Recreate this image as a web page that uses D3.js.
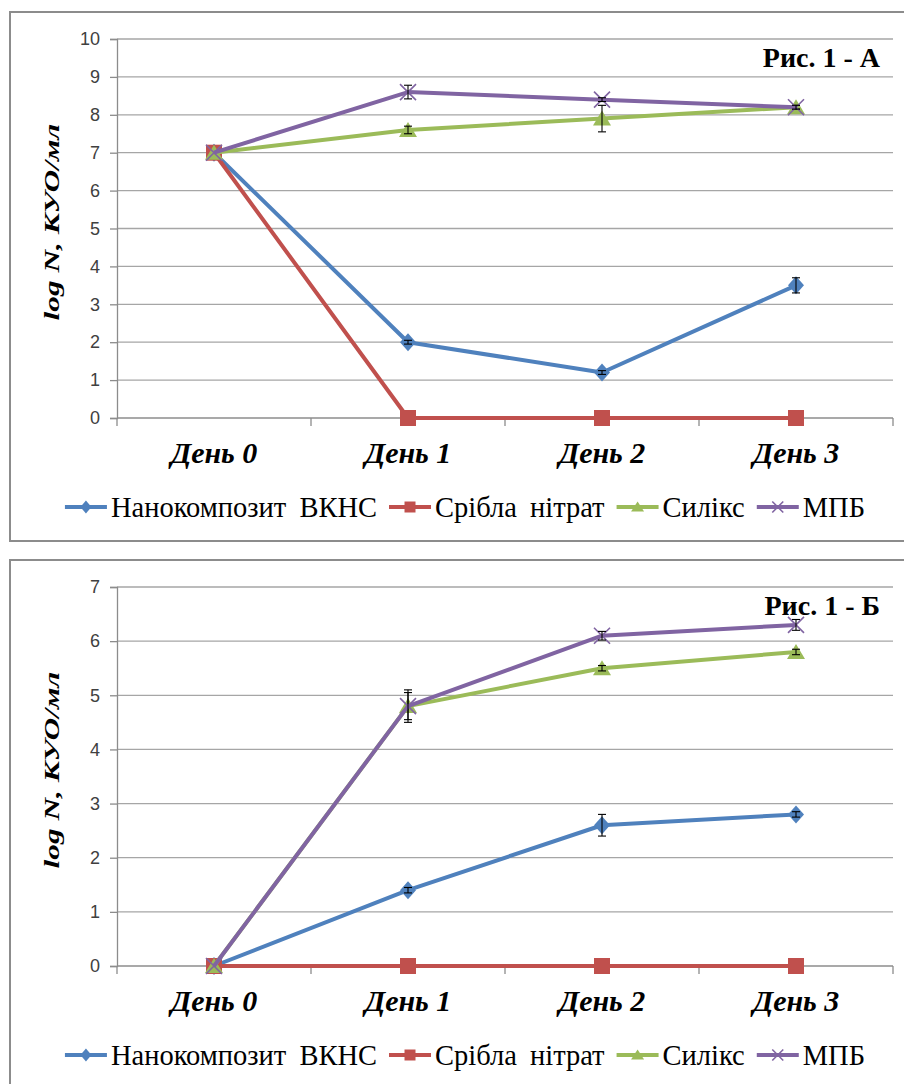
<!DOCTYPE html>
<html>
<head>
<meta charset="utf-8">
<script src="https://cdn.jsdelivr.net/npm/d3@7"></script>
<style>
  body { margin: 0; background: #fff; }
  svg { display: block; }
</style>
</head>
<body>
<div id="chart"></div>
<script>
// categories and series names
var days = ["День 0", "День 1", "День 2", "День 3"];
var seriesNames = ["Нанокомпозит ВКНС", "Срібла нітрат", "Силікс", "МПБ"];
var seriesColors = ["#4f81bd", "#c0504d", "#9bbb59", "#8064a2"];
var seriesMarkers = ["diamond", "square", "triangle", "cross"];

// Рис. 1 - А
var nanoA = [7, 2, 1.2, 3.5];
var silverA = [7, 0, 0, 0];
var silixA = [7, 7.6, 7.9, 8.2];
var mpbA = [7, 8.6, 8.4, 8.2];
var nanoErrA = [0, 0.05, 0.05, 0.2];
var silverErrA = [0, 0, 0, 0];
var silixErrA = [0, 0.1, 0.35, 0.05];
var mpbErrA = [0, 0.18, 0.05, 0.05];
var ticksA = [0, 1, 2, 3, 4, 5, 6, 7, 8, 9, 10];

// Рис. 1 - Б
var nanoB = [0, 1.4, 2.6, 2.8];
var silverB = [0, 0, 0, 0];
var silixB = [0, 4.8, 5.5, 5.8];
var mpbB = [0, 4.8, 6.1, 6.3];
var nanoErrB = [0, 0.05, 0.2, 0.05];
var silverErrB = [0, 0, 0, 0];
var silixErrB = [0, 0.25, 0.05, 0.05];
var mpbErrB = [0, 0.3, 0.08, 0.1];
var ticksB = [0, 1, 2, 3, 4, 5, 6, 7];

var W = 904, H = 1084;
var serif = "'Times New Roman', serif";
var sans = "'Liberation Sans', Arial, sans-serif";

var svg = d3.select('#chart').append('svg')
    .attr('width', W)
    .attr('height', H);

function markerPath(type, s) {
  var h = s / 2;
  if (type === 'diamond') return 'M0,' + (-h - 1) + 'L' + h + ',0L0,' + (h + 1) + 'L' + (-h) + ',0Z';
  if (type === 'square') return 'M' + (-h) + ',' + (-h) + 'H' + h + 'V' + h + 'H' + (-h) + 'Z';
  if (type === 'triangle') return 'M0,' + (-h) + 'L' + (h + 1) + ',' + (h - 1) + 'L' + (-h - 1) + ',' + (h - 1) + 'Z';
  return 'M' + (-h) + ',' + (-h) + 'L' + h + ',' + h + 'M' + (-h) + ',' + h + 'L' + h + ',' + (-h);
}

function drawMarker(g, type, color, size) {
  var p = g.append('path').attr('d', markerPath(type, size));
  if (type === 'cross') p.attr('fill', 'none').attr('stroke', color).attr('stroke-width', 1.6);
  else p.attr('fill', color);
}

function drawPanel(top, title, yMax, ticks, series, errors) {
  var g = svg.append('g').attr('transform', 'translate(0,' + top + ')');

  g.append('rect')
    .attr('x', 10).attr('y', 0)
    .attr('width', 910).attr('height', 529)
    .attr('fill', '#fff')
    .attr('stroke', '#8c8c8c')
    .attr('stroke-width', 2);

  var x = d3.scaleBand().domain(days).range([117, 893]);
  var y = d3.scaleLinear().domain([0, yMax]).range([406, 27]);
  var cx = function(d) { return x(d) + x.bandwidth() / 2; };

  // gridlines
  g.append('g').selectAll('line').data(ticks.slice(1)).enter().append('line')
    .attr('x1', 117).attr('x2', 893)
    .attr('y1', function(d) { return y(d); })
    .attr('y2', function(d) { return y(d); })
    .attr('stroke', '#a6a6a6').attr('stroke-width', 1.3);

  var yAxis = g.append('g').attr('transform', 'translate(117,0)')
    .call(d3.axisLeft(y).tickValues(ticks).tickSize(7).tickPadding(10).tickFormat(d3.format('d')));
  yAxis.select('.domain').attr('stroke', '#8c8c8c').attr('stroke-width', 1.3);
  yAxis.selectAll('.tick line').attr('stroke', '#8c8c8c').attr('stroke-width', 1.3);
  yAxis.selectAll('.tick text')
    .attr('font-family', sans).attr('font-size', 18).attr('fill', '#404040');

  // x axis
  var xAxis = g.append('g').attr('transform', 'translate(0,' + y(0) + ')');
  xAxis.append('line').attr('x1', 117).attr('x2', 893)
    .attr('stroke', '#8c8c8c').attr('stroke-width', 1.3);
  var bounds = days.map(function(d) { return x(d); }).concat([x.range()[1]]);
  xAxis.selectAll('.xt').data(bounds).enter().append('line')
    .attr('class', 'xt')
    .attr('x1', function(d) { return d; }).attr('x2', function(d) { return d; })
    .attr('y1', 0).attr('y2', 8)
    .attr('stroke', '#8c8c8c').attr('stroke-width', 1.3);
  xAxis.selectAll('text').data(days).enter().append('text')
    .attr('x', cx).attr('y', 45)
    .attr('text-anchor', 'middle')
    .attr('font-family', serif).attr('font-size', 30)
    .attr('font-weight', 'bold').attr('font-style', 'italic')
    .attr('fill', '#000')
    .text(function(d) { return d; });

  // y title, stretched along its length like the original
  var yt = g.append('text')
    .attr('text-anchor', 'middle')
    .attr('font-family', serif).attr('font-size', 22)
    .attr('font-weight', 'bold').attr('font-style', 'italic')
    .text('log N, КУО/мл');
  var k = 197 / yt.node().getComputedTextLength();
  yt.attr('transform', 'translate(59,210) rotate(-90) scale(' + k + ',1)');

  // panel title
  g.append('text')
    .attr('x', 880).attr('y', 55)
    .attr('text-anchor', 'end')
    .attr('font-family', serif).attr('font-size', 28)
    .attr('font-weight', 'bold')
    .text(title);

  var line = d3.line()
    .x(function(d, i) { return cx(days[i]); })
    .y(function(d) { return y(d); });

  series.forEach(function(vals, s) {
    var sg = g.append('g');
    sg.append('path').datum(vals)
      .attr('d', line)
      .attr('fill', 'none')
      .attr('stroke', seriesColors[s])
      .attr('stroke-width', 4)
      .attr('stroke-linejoin', 'round');
    vals.forEach(function(v, i) {
      var mg = sg.append('g').attr('transform', 'translate(' + cx(days[i]) + ',' + y(v) + ')');
      drawMarker(mg, seriesMarkers[s], seriesColors[s], 16);
    });
    // error bars
    vals.forEach(function(v, i) {
      var e = errors[s][i];
      if (!e) return;
      var xe = cx(days[i]);
      var eg = sg.append('g').attr('stroke', '#000').attr('stroke-width', 1.1);
      eg.append('line').attr('x1', xe).attr('x2', xe).attr('y1', y(v - e)).attr('y2', y(v + e));
      eg.append('line').attr('x1', xe - 4).attr('x2', xe + 4).attr('y1', y(v - e)).attr('y2', y(v - e));
      eg.append('line').attr('x1', xe - 4).attr('x2', xe + 4).attr('y1', y(v + e)).attr('y2', y(v + e));
    });
  });

  // legend
  var lg = g.append('g').attr('transform', 'translate(0,505)');
  var items = lg.selectAll('g').data(seriesNames).enter().append('g');
  items.append('line')
    .attr('x1', 0).attr('x2', 42).attr('y1', -10).attr('y2', -10)
    .attr('stroke', function(d, i) { return seriesColors[i]; })
    .attr('stroke-width', 4);
  items.each(function(d, i) {
    var mg = d3.select(this).append('g').attr('transform', 'translate(21,-10)');
    drawMarker(mg, seriesMarkers[i], seriesColors[i], 11);
  });
  items.append('text')
    .attr('x', 46).attr('y', 0)
    .attr('font-family', serif).attr('font-size', 28.5)
    .attr('word-spacing', 6)
    .text(function(d) { return d; });
  var widths = [];
  items.each(function() { widths.push(46 + d3.select(this).select('text').node().getComputedTextLength()); });
  var gap = 12;
  var total = d3.sum(widths) + gap * (widths.length - 1);
  var start = 465 - total / 2;
  items.attr('transform', function(d, i) {
    var off = start + d3.sum(widths.slice(0, i)) + gap * i;
    return 'translate(' + off + ',0)';
  });
}

drawPanel(12, 'Рис. 1 - А', 10, ticksA,
  [nanoA, silverA, silixA, mpbA],
  [nanoErrA, silverErrA, silixErrA, mpbErrA]);

drawPanel(560, 'Рис. 1 - Б', 7, ticksB,
  [nanoB, silverB, silixB, mpbB],
  [nanoErrB, silverErrB, silixErrB, mpbErrB]);
</script>
</body>
</html>
